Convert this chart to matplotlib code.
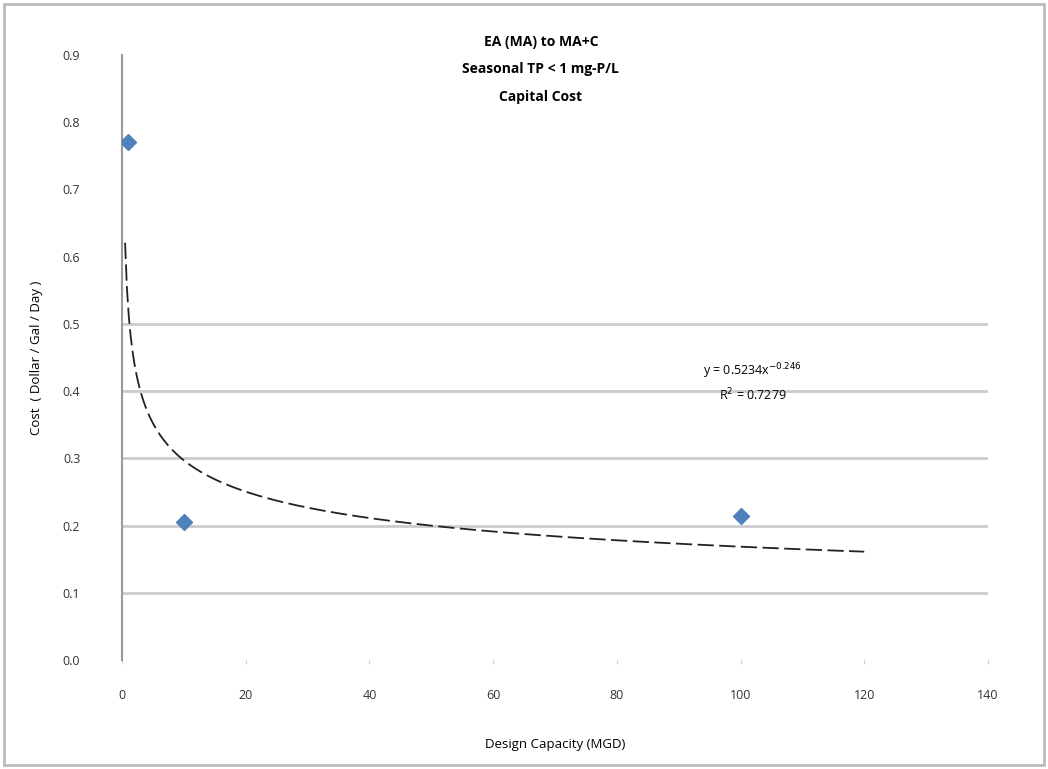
import numpy as np
import matplotlib.pyplot as plt
from matplotlib.patches import Rectangle

# data
capacity = [1, 10, 100]          # MGD
cost = [0.771, 0.205, 0.214]     # $/gal/day

# power trendline shown on the chart
coef = 0.5234
expo = -0.246
trend_x = np.linspace(0.5, 120, 400)
trend_y = coef * trend_x ** expo

title_lines = ["EA (MA) to MA+C", "Seasonal TP < 1 mg-P/L", "Capital Cost"]
y_ticks = [0.0, 0.1, 0.2, 0.3, 0.4, 0.5, 0.6, 0.7, 0.8, 0.9]
grid_levels = [0.1, 0.2, 0.3, 0.4, 0.5]
x_ticks = [0, 20, 40, 60, 80, 100, 120, 140]

plt.rcParams["font.family"] = ["Open Sans", "DejaVu Sans"]

fig = plt.figure(figsize=(10.48, 7.69), dpi=100)
ax = fig.add_axes([0.1164, 0.1417, 0.8263, 0.7868])

for g in grid_levels:
    ax.axhline(g, color="#cccccc", lw=2, zorder=0)

ax.plot(trend_x, trend_y, color="#222222", lw=1.3, dashes=(9, 3), zorder=2)
ax.plot(capacity, cost, linestyle="none", marker="D", markersize=8,
        color="#4f81bd", zorder=3)

ax.set_xlim(0, 140)
ax.set_ylim(0, 0.9)
ax.set_xticks(x_ticks)
ax.set_yticks(y_ticks)
ax.set_yticklabels([f"{v:.1f}" for v in y_ticks])
ax.tick_params(axis="y", length=0, pad=30, labelsize=9, labelcolor="#333333")
ax.tick_params(axis="x", length=3, color="#cccccc", pad=18, labelsize=9,
               labelcolor="#333333")

for s in ["top", "right", "bottom"]:
    ax.spines[s].set_visible(False)
ax.spines["left"].set_color("#999999")
ax.spines["left"].set_linewidth(1.5)

ax.set_xlabel("Design Capacity (MGD)", fontsize=9.5, labelpad=26)
ax.set_ylabel("Cost  ( Dollar / Gal / Day )", fontsize=9.5, labelpad=14)

fig.text(0.516, 0.955, "\n".join(title_lines), ha="center", va="top",
         fontsize=10, fontweight="bold", linespacing=2.25)

ax.text(102, 0.429, "y = 0.5234x$^{-0.246}$", ha="center", va="center", fontsize=9)
ax.text(102, 0.394, "R$^2$ = 0.7279", ha="center", va="center", fontsize=9)

fig.patches.append(Rectangle((0.004, 0.005), 0.992, 0.99, transform=fig.transFigure,
                             fill=False, edgecolor="#bbbbbb", lw=2))

fig.savefig("out.png", dpi=100)
